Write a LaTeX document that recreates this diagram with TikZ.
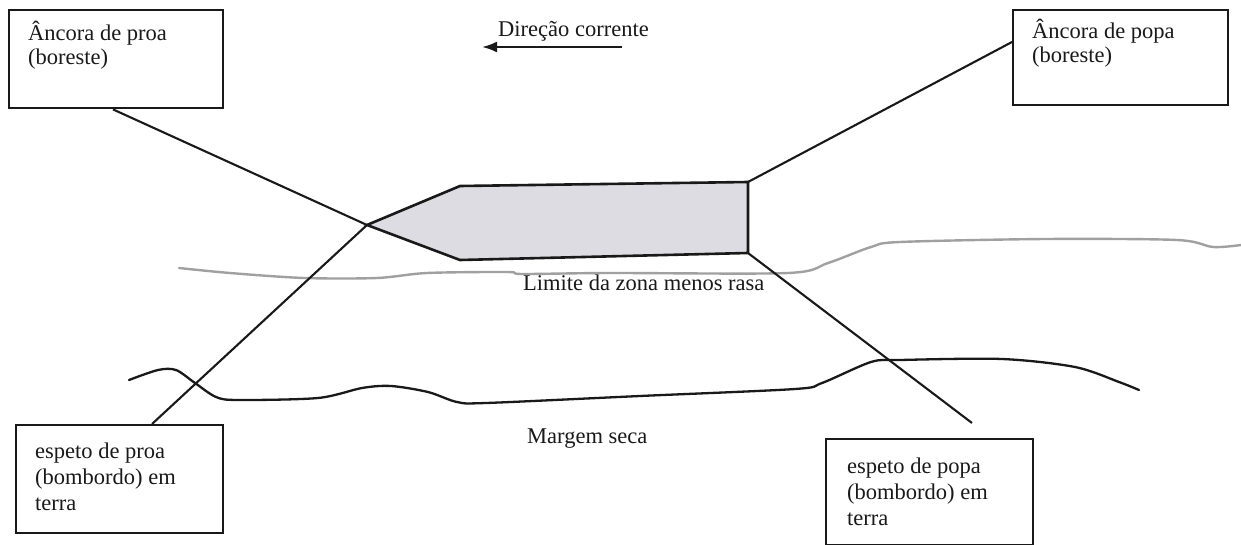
\documentclass[tikz,border=0pt]{standalone}
\usepackage{fontspec}
\setmainfont{Liberation Serif}
\usetikzlibrary{arrows.meta}
\definecolor{ink}{RGB}{25,25,25}
\definecolor{hull}{RGB}{220,220,226}
\definecolor{limgray}{RGB}{160,160,160}
\begin{document}
\begin{tikzpicture}[x=1pt,y=-1pt,
  box/.style={draw=ink, line width=2.4pt, rectangle, inner sep=0pt, anchor=north west},
  rope/.style={draw=ink, line width=2.1pt},
  boat/.style={draw=ink, line width=2.6pt, fill=hull, line join=miter},
  shore/.style={draw=ink, line width=2.3pt, line cap=round},
  limit/.style={draw=limgray, line width=2.4pt, line cap=round},
  lbl/.style={font=\fontsize{22.5}{24}\selectfont, align=left, anchor=base west, inner sep=0pt, text=ink},
  lbltwo/.style={lbl, font=\fontsize{22.5}{26}\selectfont},
  flow/.style={draw=ink, line width=2.3pt, -{Latex[length=15pt,width=11pt]}}
]
\useasboundingbox (0,0) rectangle (1241,545);

% boxes
\node[box, minimum width=214pt, minimum height=98pt] (b1) at (8,9) {};
\node[box, minimum width=215pt, minimum height=95pt] (b2) at (1012,9) {};
\node[box, minimum width=207pt, minimum height=108pt] (b3) at (15,424) {};
\node[box, minimum width=207pt, minimum height=106pt] (b4) at (825,438) {};

% labels (base anchor = baseline of the last line)
\node[lbl] (t1) at (28,65) {Âncora de proa\\(boreste)};
\node[lbl] (t2) at (1032,63) {Âncora de popa\\(boreste)};
\node[lbltwo] (t3) at (35,510) {espeto de proa\\(bombordo) em\\terra};
\node[lbltwo] (t4) at (847,525) {espeto de popa\\(bombordo) em\\terra};

% limit of shallower zone
\draw[limit] plot[smooth, tension=0.5] coordinates {(179,268) (230,273) (304,278) (377,278) (427,273) (508,272) (522,274) (609,273) (788,273) (828,263) (871,247) (900,242) (1046,239) (1177,240) (1213,247) (1241,245)};

% dry shoreline
\draw[shore] plot[smooth, tension=0.5] coordinates {(129,380) (158,370) (176,370) (195,383) (216,397) (238,400) (318,398) (362,388) (391,386) (428,392) (457,402) (486,403) (640,396) (795,389) (822,383) (871,362) (900,360) (1002,359) (1075,367) (1119,382) (1139,390)};

% boat
\coordinate (bow) at (367,225);
\coordinate (tl) at (460,186);
\coordinate (tr) at (748,182);
\coordinate (br) at (748,253);
\coordinate (bl) at (460,260);
\filldraw[boat] (bow) -- (tl) -- (tr) -- (br) -- (bl) -- cycle;

% ropes
\path (b1.south west) ++(105,0) coordinate (a1);
\path (b2.north west) ++(0,33) coordinate (a2);
\path (b3.north west) ++(137,0) coordinate (a3);
\coordinate (a4) at (972,423);
\draw[rope] (a1) -- (bow);
\draw[rope] (bow) -- (a3);
\draw[rope] (tr) -- (a2);
\draw[rope] (br) -- (a4);

% current direction
\coordinate (fs) at (622,47);
\coordinate (fe) at (482,47);
\draw[flow] (fs) -- (fe);
\node[lbl] (dir) at (498,37) {Direção corrente};

\node[lbl] (lim) at (523,290) {Limite da zona menos rasa};
\node[lbl] (mar) at (527,443) {Margem seca};
\end{tikzpicture}
\end{document}
